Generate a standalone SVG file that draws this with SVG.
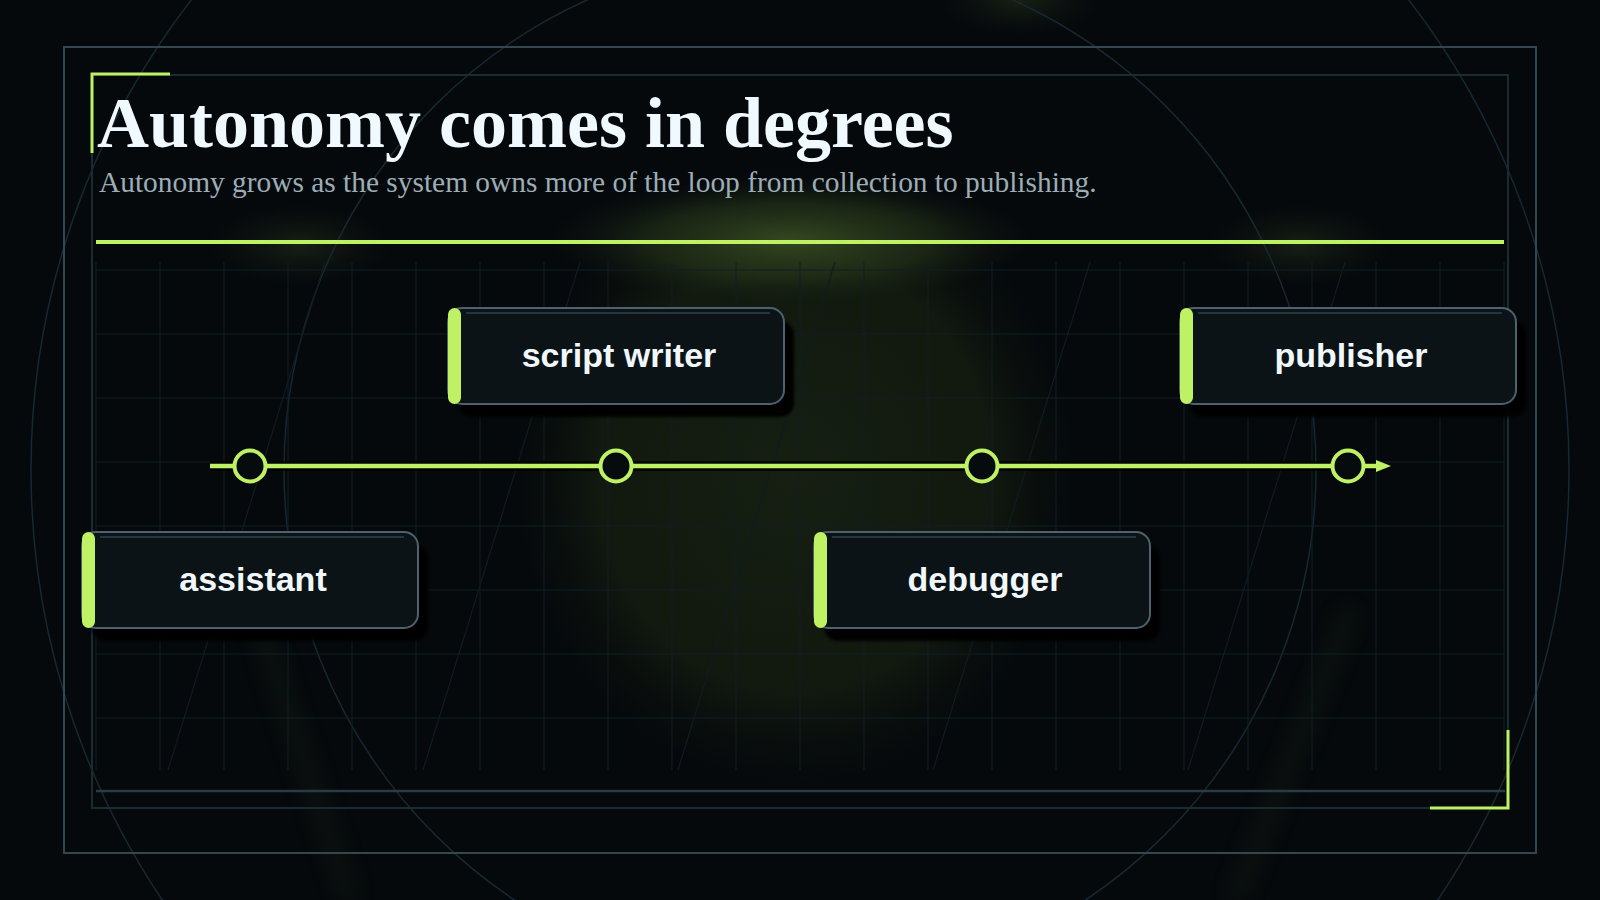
<svg xmlns="http://www.w3.org/2000/svg" width="1600" height="900" viewBox="0 0 1600 900">
  <defs>
    <style>
      .frame-outer { fill: none; stroke: #34474f; stroke-width: 2; }
      .frame-inner { fill: none; stroke: #1c2b32; stroke-width: 2; }
      .accent { fill: none; stroke: #bef264; stroke-width: 3; }
      .ring { fill: none; stroke: #172830; stroke-width: 1.5; }
      .grid { fill: none; stroke: #111e24; stroke-width: 1; }
      .diag { fill: none; stroke: #101c22; stroke-width: 1.2; }
      .title { font-family: "Liberation Serif", "Times New Roman", serif; font-weight: bold; font-size: 72px; fill: #f0f9ff; }
      .subtitle { font-family: "Liberation Serif", "Times New Roman", serif; font-size: 29.4px; fill: #9cadb6; }
      .box { fill: #0b1317; stroke: #4d626d; stroke-width: 2; }
      .hl { stroke: #25353d; stroke-width: 2; }
      .bar { fill: #bef264; }
      .shadow { fill: #000000; opacity: 0.95; }
      .label { font-family: "Liberation Sans", Arial, sans-serif; font-weight: bold; font-size: 34px; fill: #f1f8fb; text-anchor: middle; }
      .tick { fill: #060b0e; stroke: #bef264; stroke-width: 4; }
      .tl { fill: none; stroke: #bef264; stroke-width: 4.5; }
      .tl-shadow { fill: none; stroke: #000000; stroke-width: 10; opacity: 0.75; }
    </style>
    <radialGradient id="gCenter" cx="0.5" cy="0.5" r="0.5">
      <stop offset="0" stop-color="#161f12" stop-opacity="1"/>
      <stop offset="0.7" stop-color="#131b10" stop-opacity="0.9"/>
      <stop offset="1" stop-color="#0c120c" stop-opacity="0"/>
    </radialGradient>
    <radialGradient id="gGlow" cx="0.5" cy="0.5" r="0.5">
      <stop offset="0" stop-color="#3d5424" stop-opacity="0.8"/>
      <stop offset="0.6" stop-color="#2b3b1c" stop-opacity="0.5"/>
      <stop offset="1" stop-color="#1a2414" stop-opacity="0"/>
    </radialGradient>
    <radialGradient id="gFaint" cx="0.5" cy="0.5" r="0.5">
      <stop offset="0" stop-color="#2a381c" stop-opacity="0.5"/>
      <stop offset="1" stop-color="#1a2414" stop-opacity="0"/>
    </radialGradient>
    <filter id="blur" x="-20%" y="-20%" width="140%" height="140%">
      <feGaussianBlur stdDeviation="1.5"/>
    </filter>
    <filter id="beam" x="-50%" y="-10%" width="200%" height="120%">
      <feGaussianBlur stdDeviation="10"/>
    </filter>
    <clipPath id="gridClip">
      <rect x="92" y="262" width="1414" height="508"/>
    </clipPath>
    <marker id="arrow" markerWidth="15" markerHeight="12" refX="1" refY="6" orient="auto" markerUnits="userSpaceOnUse" viewBox="0 0 15 12">
      <path d="M0,0 L15,6 L0,12 Z" fill="#bef264"/>
    </marker>
  </defs>

  <!-- background -->
  <rect x="0" y="0" width="1600" height="900" fill="#05090c"/>
  <ellipse cx="795" cy="475" rx="280" ry="310" fill="url(#gCenter)"/>
  <ellipse cx="790" cy="240" rx="240" ry="62" fill="url(#gGlow)"/>
  <ellipse cx="300" cy="245" rx="90" ry="40" fill="url(#gFaint)"/>
  <ellipse cx="1300" cy="245" rx="90" ry="40" fill="url(#gFaint)"/>
  <ellipse cx="1020" cy="0" rx="80" ry="35" fill="url(#gFaint)"/>
  <g opacity="0.2" filter="url(#beam)">
    <line x1="255" y1="610" x2="350" y2="900" stroke="#2a3a1c" stroke-width="18"/>
    <line x1="1350" y1="610" x2="1235" y2="900" stroke="#2a3a1c" stroke-width="18"/>
  </g>

  <!-- decorative rings -->
  <circle class="ring" cx="800" cy="470" r="769"/>
  <circle class="ring" cx="800" cy="470" r="516"/>

  <!-- grid -->
  <g clip-path="url(#gridClip)">
    <path class="grid" d="M96 262V770M160 262V770M224 262V770M288 262V770M352 262V770M416 262V770M480 262V770M544 262V770M608 262V770M672 262V770M736 262V770M800 262V770M864 262V770M928 262V770M992 262V770M1056 262V770M1120 262V770M1184 262V770M1248 262V770M1312 262V770M1376 262V770M1440 262V770M1504 262V770"/>
    <path class="grid" stroke="#14232a" d="M96 270H1504M96 334H1504M96 398H1504M96 462H1504M96 526H1504M96 590H1504M96 654H1504M96 718H1504"/>
    <path class="diag" d="M168 770L325 262M423 770L580 262M678 770L835 262M933 770L1090 262M1188 770L1345 262"/>
  </g>

  <!-- frames -->
  <rect class="frame-outer" x="64" y="47" width="1472" height="806"/>
  <rect class="frame-inner" x="92" y="75" width="1416" height="733"/>
  <line x1="96" y1="791" x2="1505" y2="791" stroke="#2a3b44" stroke-width="2.5"/>
  <path class="accent" d="M92 153V74H170"/>
  <path class="accent" d="M1508 730V808H1430"/>

  <!-- header -->
  <text class="title" x="97" y="147">Autonomy comes in degrees</text>
  <text class="subtitle" x="99" y="192">Autonomy grows as the system owns more of the loop from collection to publishing.</text>
  <rect x="96" y="240" width="1408" height="4" fill="#bef264"/>

  <!-- connectors -->
  <g id="connectors">
    <line class="tl-shadow" x1="210" y1="466" x2="1380" y2="466"/>
    <line class="tl" x1="210" y1="466" x2="1377" y2="466" marker-end="url(#arrow)"/>
  </g>

  <!-- nodes -->
  <g id="node-assistant">
    <circle class="tick" cx="250" cy="466" r="15.5"/>
    <rect class="shadow" x="92" y="545" width="336" height="96" rx="14" filter="url(#blur)"/>
    <rect class="box" x="82" y="532" width="336" height="96" rx="14"/>
    <line class="hl" x1="100" y1="537" x2="404" y2="537"/>
    <rect class="bar" x="82" y="532" width="13" height="96" rx="6.5"/>
    <text class="label" x="253" y="591">assistant</text>
  </g>

  <g id="node-script-writer">
    <circle class="tick" cx="616" cy="466" r="15.5"/>
    <rect class="shadow" x="458" y="321" width="336" height="96" rx="14" filter="url(#blur)"/>
    <rect class="box" x="448" y="308" width="336" height="96" rx="14"/>
    <line class="hl" x1="466" y1="313" x2="770" y2="313"/>
    <rect class="bar" x="448" y="308" width="13" height="96" rx="6.5"/>
    <text class="label" x="619" y="367">script writer</text>
  </g>

  <g id="node-debugger">
    <circle class="tick" cx="982" cy="466" r="15.5"/>
    <rect class="shadow" x="824" y="545" width="336" height="96" rx="14" filter="url(#blur)"/>
    <rect class="box" x="814" y="532" width="336" height="96" rx="14"/>
    <line class="hl" x1="832" y1="537" x2="1136" y2="537"/>
    <rect class="bar" x="814" y="532" width="13" height="96" rx="6.5"/>
    <text class="label" x="985" y="591">debugger</text>
  </g>

  <g id="node-publisher">
    <circle class="tick" cx="1348" cy="466" r="15.5"/>
    <rect class="shadow" x="1190" y="321" width="336" height="96" rx="14" filter="url(#blur)"/>
    <rect class="box" x="1180" y="308" width="336" height="96" rx="14"/>
    <line class="hl" x1="1198" y1="313" x2="1502" y2="313"/>
    <rect class="bar" x="1180" y="308" width="13" height="96" rx="6.5"/>
    <text class="label" x="1351" y="367">publisher</text>
  </g>
</svg>
